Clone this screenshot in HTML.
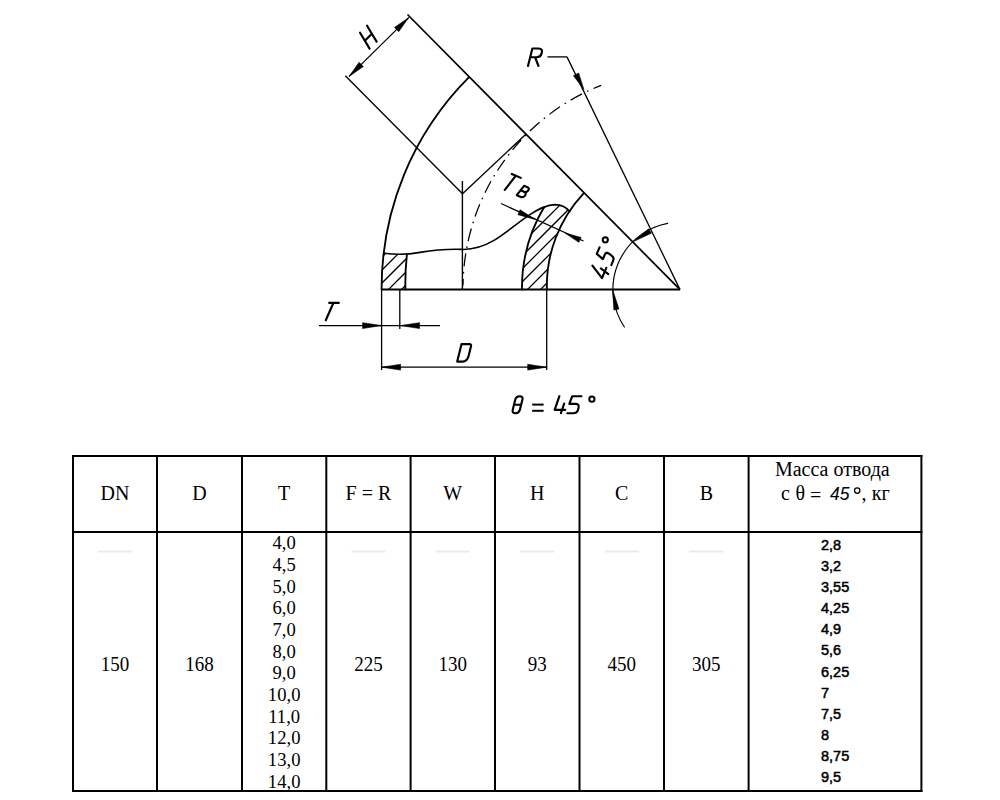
<!DOCTYPE html>
<html><head><meta charset="utf-8"><title>Отвод 45°</title>
<style>
html,body{margin:0;padding:0;background:#fff;}
body{width:1000px;height:800px;overflow:hidden;font-family:"Liberation Serif",serif;}
svg{display:block;}
</style></head>
<body>
<svg width="1000" height="800" viewBox="0 0 1000 800">
<rect x="0" y="0" width="1000" height="800" fill="#fff"/>
<g id="drawing">
<line x1="381.50" y1="289.60" x2="680.00" y2="289.60" stroke="#000" stroke-width="2.0" />
<line x1="407.50" y1="14.50" x2="680.00" y2="289.60" stroke="#000" stroke-width="1.7" />
<line x1="345.30" y1="75.80" x2="462.50" y2="193.70" stroke="#000" stroke-width="1.35" />
<line x1="462.50" y1="193.70" x2="525.80" y2="134.30" stroke="#000" stroke-width="1.35" />
<line x1="462.40" y1="181.00" x2="462.40" y2="289.60" stroke="#000" stroke-width="1.4" />
<path d="M381.6,289.6 A298.5,298.5 0 0 1 468.8,77.4" stroke="#000" stroke-width="1.85" fill="none" stroke-linecap="round" stroke-linejoin="round" />
<path d="M546.9,289.6 A135,135 0 0 1 583.4,193.6" stroke="#000" stroke-width="1.85" fill="none" stroke-linecap="round" stroke-linejoin="round" />
<path d="M522.0,289.6 A158,158 0 0 1 544.0,207.3" stroke="#000" stroke-width="1.85" fill="none" stroke-linecap="round" stroke-linejoin="round" />
<path d="M405.4,289.6 A275,275 0 0 1 406.9,254.3" stroke="#000" stroke-width="1.85" fill="none" stroke-linecap="round" stroke-linejoin="round" />
<path d="M384.2,253.2 C396,254.8 408,254.6 420,252.4 C432,250.4 446,248.8 462,249.4 C474,249.8 484,246.2 494,240.4 C506,233.2 516,224 528,215.8 C538,209 546,204.6 555,204.6 C562,204.8 566.5,207.4 569.8,211.6" stroke="#000" stroke-width="1.6" fill="none" stroke-linecap="round" stroke-linejoin="round" />
<line x1="680.00" y1="289.60" x2="567.00" y2="56.90" stroke="#000" stroke-width="1.3" />
<line x1="567.00" y1="56.90" x2="547.50" y2="56.90" stroke="#000" stroke-width="1.3" />
<path d="M583.90,89.40 L573.48,75.66 L578.63,72.98 Z" fill="#000" stroke="#000" stroke-width="0.6" stroke-linejoin="round"/>
<path d="M601.2,85.3 A218,218 0 0 0 463.0,285.6" stroke="#000" stroke-width="1.25" fill="none" stroke-dasharray="13 5.5 1.6 5.5" stroke-dashoffset="4.6"/>
<line x1="349.10" y1="76.40" x2="408.70" y2="17.60" stroke="#000" stroke-width="1.3" />
<path d="M349.10,76.40 L359.09,62.33 L363.31,66.60 Z" fill="#000" stroke="#000" stroke-width="0.6" stroke-linejoin="round"/>
<path d="M408.70,17.60 L398.71,31.67 L394.49,27.40 Z" fill="#000" stroke="#000" stroke-width="0.6" stroke-linejoin="round"/>
<line x1="381.60" y1="289.60" x2="381.60" y2="370.00" stroke="#000" stroke-width="1.3" />
<line x1="399.80" y1="289.60" x2="399.80" y2="329.00" stroke="#000" stroke-width="1.3" />
<line x1="546.70" y1="289.60" x2="546.70" y2="370.00" stroke="#000" stroke-width="1.3" />
<line x1="319.00" y1="325.60" x2="440.00" y2="325.60" stroke="#000" stroke-width="1.3" />
<path d="M381.60,325.60 L362.60,328.50 L362.60,322.70 Z" fill="#000" stroke="#000" stroke-width="0.6" stroke-linejoin="round"/>
<path d="M400.50,325.60 L419.50,322.70 L419.50,328.50 Z" fill="#000" stroke="#000" stroke-width="0.6" stroke-linejoin="round"/>
<line x1="381.60" y1="367.20" x2="546.70" y2="367.20" stroke="#000" stroke-width="1.3" />
<path d="M381.60,367.20 L400.60,364.30 L400.60,370.10 Z" fill="#000" stroke="#000" stroke-width="0.6" stroke-linejoin="round"/>
<path d="M546.70,367.20 L527.70,370.10 L527.70,364.30 Z" fill="#000" stroke="#000" stroke-width="0.6" stroke-linejoin="round"/>
<line x1="501.00" y1="203.50" x2="583.50" y2="241.00" stroke="#000" stroke-width="1.3" />
<path d="M535.00,219.40 L517.89,214.66 L520.11,209.74 Z" fill="#000" stroke="#000" stroke-width="0.6" stroke-linejoin="round"/>
<path d="M565.00,233.10 L581.11,237.44 L578.89,242.36 Z" fill="#000" stroke="#000" stroke-width="0.6" stroke-linejoin="round"/>
<path d="M624.4,327.0 A67.2,67.2 0 0 1 667.6,223.4" stroke="#000" stroke-width="1.15" fill="none" stroke-linecap="round" stroke-linejoin="round" />
<path d="M612.80,290.10 L618.96,309.03 L613.84,309.97 Z" fill="#000" stroke="#000" stroke-width="0.6" stroke-linejoin="round"/>
<path d="M633.40,241.60 L648.60,228.81 L651.40,233.19 Z" fill="#000" stroke="#000" stroke-width="0.6" stroke-linejoin="round"/>
<defs><clipPath id="hl"><path d="M381.6,289.6 A298.5,298.5 0 0 1 384.2,253.2 C396,254.8 404,254.6 407,254.2 A275,275 0 0 0 405.4,289.6 Z"/></clipPath><clipPath id="hr"><path d="M522.0,289.6 A158,158 0 0 1 544.0,207.3 C548,205.2 551,204.6 555,204.6 C562,204.8 566.5,207.4 569.8,211.6 A135,135 0 0 0 546.9,289.6 Z"/></clipPath></defs>
<path d="M313,300 L413,200 M326,300 L426,200 M339,300 L439,200 M352,300 L452,200 M365,300 L465,200 M378,300 L478,200 M391,300 L491,200 M404,300 L504,200" stroke="#000" stroke-width="1.25" clip-path="url(#hl)"/>
<path d="M439,300 L549,190 M452,300 L562,190 M465,300 L575,190 M478,300 L588,190 M491,300 L601,190 M504,300 L614,190 M517,300 L627,190 M530,300 L640,190 M543,300 L653,190 M556,300 L666,190 M569,300 L679,190 M582,300 L692,190 M595,300 L705,190 M608,300 L718,190" stroke="#000" stroke-width="1.25" clip-path="url(#hr)"/>
<path d="M0,0 V-1 M0.55,0 V-1 M0,-0.5 H0.55" transform="translate(369.60,48.60) rotate(-45) skewX(-14) scale(18.000,18.000)" stroke="#000" stroke-width="2.15" fill="none" stroke-linecap="round" stroke-linejoin="round" vector-effect="non-scaling-stroke"/>
<path d="M0,0 V-1 H0.36 Q0.6,-1 0.6,-0.75 Q0.6,-0.5 0.36,-0.5 H0 M0.28,-0.5 L0.6,0" transform="translate(528.00,66.00) rotate(0) skewX(-14) scale(17.500,17.500)" stroke="#000" stroke-width="2.15" fill="none" stroke-linecap="round" stroke-linejoin="round" vector-effect="non-scaling-stroke"/>
<path d="M0,-1 H0.56 M0.25,-1 V0" transform="translate(321.40,320.20) rotate(0) skewX(-24) scale(17.400,17.400)" stroke="#000" stroke-width="2.15" fill="none" stroke-linecap="round" stroke-linejoin="round" vector-effect="non-scaling-stroke"/>
<path d="M0,0 V-1 H0.45 Q0.57,-1 0.57,-0.88 V-0.3 Q0.57,0 0.3,0 Z" transform="translate(457.20,361.60) rotate(0) skewX(-14) scale(17.500,17.500)" stroke="#000" stroke-width="2.15" fill="none" stroke-linecap="round" stroke-linejoin="round" vector-effect="non-scaling-stroke"/>
<path d="M0.21,-1 Q0,-1 0,-0.8 V-0.2 Q0,0 0.21,0 Q0.42,0 0.42,-0.2 V-0.8 Q0.42,-1 0.21,-1 Z M0,-0.5 H0.42" transform="translate(511.90,413.20) rotate(0) skewX(-14) scale(17.000,17.000)" stroke="#000" stroke-width="2.15" fill="none" stroke-linecap="round" stroke-linejoin="round" vector-effect="non-scaling-stroke"/>
<line x1="532.20" y1="404.60" x2="543.60" y2="404.60" stroke="#000" stroke-width="2.0" />
<line x1="532.20" y1="410.80" x2="543.60" y2="410.80" stroke="#000" stroke-width="2.0" />
<path d="M0.08,-1 L0,-0.2 H0.62 M0.47,-0.57 L0.42,0" transform="translate(553.80,413.20) rotate(0) skewX(-14) scale(17.000,17.000)" stroke="#000" stroke-width="2.15" fill="none" stroke-linecap="round" stroke-linejoin="round" vector-effect="non-scaling-stroke"/>
<path d="M0.6,-1 H0.06 L0,-0.55 H0.36 Q0.6,-0.55 0.6,-0.32 V-0.22 Q0.6,0 0.36,0 H0.02" transform="translate(567.00,413.20) rotate(0) skewX(-14) scale(17.000,17.000)" stroke="#000" stroke-width="2.15" fill="none" stroke-linecap="round" stroke-linejoin="round" vector-effect="non-scaling-stroke"/>
<circle cx="591.9" cy="399.2" r="2.6" stroke="#000" stroke-width="2.0" fill="none"/>
<path d="M0,-1 H0.56 M0.25,-1 V0" transform="translate(500.80,188.20) rotate(23.7) skewX(-14) scale(17.500,17.500)" stroke="#000" stroke-width="2.15" fill="none" stroke-linecap="round" stroke-linejoin="round" vector-effect="non-scaling-stroke"/>
<path d="M0,0 V-1 H0.33 Q0.55,-1 0.55,-0.76 Q0.55,-0.52 0.33,-0.52 H0 M0.33,-0.52 Q0.6,-0.52 0.6,-0.26 Q0.6,0 0.33,0 H0" transform="translate(516.80,195.20) rotate(23.7) skewX(-14) scale(11.500,11.500)" stroke="#000" stroke-width="2.15" fill="none" stroke-linecap="round" stroke-linejoin="round" vector-effect="non-scaling-stroke"/>
<path d="M0.25,-1 L0,-0.24 H0.62 M0.4,-0.51 V0" transform="translate(605.60,280.75) rotate(-67.5) skewX(-14) scale(18.000,18.000)" stroke="#000" stroke-width="2.15" fill="none" stroke-linecap="round" stroke-linejoin="round" vector-effect="non-scaling-stroke"/>
<path d="M0.47,-1 H0.07 L0.04,-0.57 H0.3 Q0.5,-0.57 0.5,-0.37 V-0.17 Q0.5,0 0.32,0 H0.05" transform="translate(611.00,265.90) rotate(-67.5) skewX(-14) scale(17.700,17.700)" stroke="#000" stroke-width="2.15" fill="none" stroke-linecap="round" stroke-linejoin="round" vector-effect="non-scaling-stroke"/>
<circle cx="605.3" cy="239.8" r="2.6" stroke="#000" stroke-width="2.0" fill="none"/>
</g>
<g id="table">
<line x1="73.00" y1="455.00" x2="73.00" y2="792.00" stroke="#000" stroke-width="2.0" />
<line x1="157.00" y1="455.00" x2="157.00" y2="792.00" stroke="#000" stroke-width="2.0" />
<line x1="242.00" y1="455.00" x2="242.00" y2="792.00" stroke="#000" stroke-width="2.0" />
<line x1="326.30" y1="455.00" x2="326.30" y2="792.00" stroke="#000" stroke-width="2.0" />
<line x1="410.60" y1="455.00" x2="410.60" y2="792.00" stroke="#000" stroke-width="2.0" />
<line x1="495.00" y1="455.00" x2="495.00" y2="792.00" stroke="#000" stroke-width="2.0" />
<line x1="579.50" y1="455.00" x2="579.50" y2="792.00" stroke="#000" stroke-width="2.0" />
<line x1="664.00" y1="455.00" x2="664.00" y2="792.00" stroke="#000" stroke-width="2.0" />
<line x1="748.60" y1="455.00" x2="748.60" y2="792.00" stroke="#000" stroke-width="2.0" />
<line x1="921.40" y1="455.00" x2="921.40" y2="792.00" stroke="#000" stroke-width="2.0" />
<line x1="72.00" y1="456.00" x2="922.40" y2="456.00" stroke="#000" stroke-width="2.0" />
<line x1="72.00" y1="532.00" x2="922.40" y2="532.00" stroke="#000" stroke-width="2.0" />
<line x1="72.00" y1="791.00" x2="922.40" y2="791.00" stroke="#000" stroke-width="2.0" />
<line x1="98.0" y1="551.5" x2="132.0" y2="551.5" stroke="#ecebe4" stroke-width="2"/>
<line x1="351.5" y1="551.5" x2="385.5" y2="551.5" stroke="#ecebe4" stroke-width="2"/>
<line x1="435.8" y1="551.5" x2="469.8" y2="551.5" stroke="#ecebe4" stroke-width="2"/>
<line x1="520.2" y1="551.5" x2="554.2" y2="551.5" stroke="#ecebe4" stroke-width="2"/>
<line x1="604.8" y1="551.5" x2="638.8" y2="551.5" stroke="#ecebe4" stroke-width="2"/>
<line x1="689.3" y1="551.5" x2="723.3" y2="551.5" stroke="#ecebe4" stroke-width="2"/>
<text x="0" y="0" transform="translate(115.00,500.00) scale(0.93,1)" font-family="Liberation Serif" font-size="21.5" font-weight="normal" text-anchor="middle" fill="#000" >DN</text>
<text x="0" y="0" transform="translate(199.50,500.00) scale(0.93,1)" font-family="Liberation Serif" font-size="21.5" font-weight="normal" text-anchor="middle" fill="#000" >D</text>
<text x="0" y="0" transform="translate(284.15,500.00) scale(0.93,1)" font-family="Liberation Serif" font-size="21.5" font-weight="normal" text-anchor="middle" fill="#000" >T</text>
<text x="0" y="0" transform="translate(368.45,500.00) scale(0.93,1)" font-family="Liberation Serif" font-size="21.5" font-weight="normal" text-anchor="middle" fill="#000" >F = R</text>
<text x="0" y="0" transform="translate(452.80,500.00) scale(0.93,1)" font-family="Liberation Serif" font-size="21.5" font-weight="normal" text-anchor="middle" fill="#000" >W</text>
<text x="0" y="0" transform="translate(537.25,500.00) scale(0.93,1)" font-family="Liberation Serif" font-size="21.5" font-weight="normal" text-anchor="middle" fill="#000" >H</text>
<text x="0" y="0" transform="translate(621.75,500.00) scale(0.93,1)" font-family="Liberation Serif" font-size="21.5" font-weight="normal" text-anchor="middle" fill="#000" >C</text>
<text x="0" y="0" transform="translate(706.30,500.00) scale(0.93,1)" font-family="Liberation Serif" font-size="21.5" font-weight="normal" text-anchor="middle" fill="#000" >B</text>
<text x="0" y="0" transform="translate(832.30,476.00) scale(1.0,1)" font-family="Liberation Serif" font-size="20" font-weight="normal" text-anchor="middle" fill="#000" >Масса отвода</text>
<text x="781.00" y="500.00" font-family="Liberation Serif" font-size="20" font-style="normal" fill="#000" >с</text>
<text x="795.60" y="500.00" font-family="Liberation Serif" font-size="20" font-style="normal" fill="#000" >θ</text>
<text x="810.00" y="501.60" font-family="Liberation Serif" font-size="20" font-style="normal" fill="#000" >=</text>
<text x="830.00" y="499.70" font-family="Liberation Sans" font-size="17.5" font-style="italic" fill="#000" >45</text>
<circle cx="857.2" cy="490.6" r="2.7" stroke="#000" stroke-width="1.3" fill="none"/>
<text x="861.50" y="500.00" font-family="Liberation Serif" font-size="20" font-style="normal" fill="#000" >,</text>
<text x="871.80" y="500.00" font-family="Liberation Serif" font-size="20" font-style="normal" fill="#000" >кг</text>
<text x="0" y="0" transform="translate(115.00,671.00) scale(0.95,1)" font-family="Liberation Serif" font-size="20" font-weight="normal" text-anchor="middle" fill="#000" >150</text>
<text x="0" y="0" transform="translate(199.50,671.00) scale(0.95,1)" font-family="Liberation Serif" font-size="20" font-weight="normal" text-anchor="middle" fill="#000" >168</text>
<text x="0" y="0" transform="translate(368.45,671.00) scale(0.95,1)" font-family="Liberation Serif" font-size="20" font-weight="normal" text-anchor="middle" fill="#000" >225</text>
<text x="0" y="0" transform="translate(452.80,671.00) scale(0.95,1)" font-family="Liberation Serif" font-size="20" font-weight="normal" text-anchor="middle" fill="#000" >130</text>
<text x="0" y="0" transform="translate(537.25,671.00) scale(0.95,1)" font-family="Liberation Serif" font-size="20" font-weight="normal" text-anchor="middle" fill="#000" >93</text>
<text x="0" y="0" transform="translate(621.75,671.00) scale(0.95,1)" font-family="Liberation Serif" font-size="20" font-weight="normal" text-anchor="middle" fill="#000" >450</text>
<text x="0" y="0" transform="translate(706.30,671.00) scale(0.95,1)" font-family="Liberation Serif" font-size="20" font-weight="normal" text-anchor="middle" fill="#000" >305</text>
<text x="0" y="0" transform="translate(284.15,549.20) scale(0.97,1)" font-family="Liberation Serif" font-size="19.2" font-weight="normal" text-anchor="middle" fill="#000" >4,0</text>
<text x="0" y="0" transform="translate(284.15,570.89) scale(0.97,1)" font-family="Liberation Serif" font-size="19.2" font-weight="normal" text-anchor="middle" fill="#000" >4,5</text>
<text x="0" y="0" transform="translate(284.15,592.58) scale(0.97,1)" font-family="Liberation Serif" font-size="19.2" font-weight="normal" text-anchor="middle" fill="#000" >5,0</text>
<text x="0" y="0" transform="translate(284.15,614.27) scale(0.97,1)" font-family="Liberation Serif" font-size="19.2" font-weight="normal" text-anchor="middle" fill="#000" >6,0</text>
<text x="0" y="0" transform="translate(284.15,635.96) scale(0.97,1)" font-family="Liberation Serif" font-size="19.2" font-weight="normal" text-anchor="middle" fill="#000" >7,0</text>
<text x="0" y="0" transform="translate(284.15,657.65) scale(0.97,1)" font-family="Liberation Serif" font-size="19.2" font-weight="normal" text-anchor="middle" fill="#000" >8,0</text>
<text x="0" y="0" transform="translate(284.15,679.34) scale(0.97,1)" font-family="Liberation Serif" font-size="19.2" font-weight="normal" text-anchor="middle" fill="#000" >9,0</text>
<text x="0" y="0" transform="translate(284.15,701.03) scale(0.97,1)" font-family="Liberation Serif" font-size="19.2" font-weight="normal" text-anchor="middle" fill="#000" >10,0</text>
<text x="0" y="0" transform="translate(284.15,722.72) scale(0.97,1)" font-family="Liberation Serif" font-size="19.2" font-weight="normal" text-anchor="middle" fill="#000" >11,0</text>
<text x="0" y="0" transform="translate(284.15,744.41) scale(0.97,1)" font-family="Liberation Serif" font-size="19.2" font-weight="normal" text-anchor="middle" fill="#000" >12,0</text>
<text x="0" y="0" transform="translate(284.15,766.10) scale(0.97,1)" font-family="Liberation Serif" font-size="19.2" font-weight="normal" text-anchor="middle" fill="#000" >13,0</text>
<text x="0" y="0" transform="translate(284.15,787.79) scale(0.97,1)" font-family="Liberation Serif" font-size="19.2" font-weight="normal" text-anchor="middle" fill="#000" >14,0</text>
<text x="0" y="0" transform="translate(821.00,550.20) scale(1.0,1)" font-family="Liberation Sans" font-size="14.5" font-weight="normal" text-anchor="start" fill="#000" stroke="#000" stroke-width="0.5">2,8</text>
<text x="0" y="0" transform="translate(821.00,571.25) scale(1.0,1)" font-family="Liberation Sans" font-size="14.5" font-weight="normal" text-anchor="start" fill="#000" stroke="#000" stroke-width="0.5">3,2</text>
<text x="0" y="0" transform="translate(821.00,592.30) scale(1.0,1)" font-family="Liberation Sans" font-size="14.5" font-weight="normal" text-anchor="start" fill="#000" stroke="#000" stroke-width="0.5">3,55</text>
<text x="0" y="0" transform="translate(821.00,613.35) scale(1.0,1)" font-family="Liberation Sans" font-size="14.5" font-weight="normal" text-anchor="start" fill="#000" stroke="#000" stroke-width="0.5">4,25</text>
<text x="0" y="0" transform="translate(821.00,634.40) scale(1.0,1)" font-family="Liberation Sans" font-size="14.5" font-weight="normal" text-anchor="start" fill="#000" stroke="#000" stroke-width="0.5">4,9</text>
<text x="0" y="0" transform="translate(821.00,655.45) scale(1.0,1)" font-family="Liberation Sans" font-size="14.5" font-weight="normal" text-anchor="start" fill="#000" stroke="#000" stroke-width="0.5">5,6</text>
<text x="0" y="0" transform="translate(821.00,676.50) scale(1.0,1)" font-family="Liberation Sans" font-size="14.5" font-weight="normal" text-anchor="start" fill="#000" stroke="#000" stroke-width="0.5">6,25</text>
<text x="0" y="0" transform="translate(821.00,697.55) scale(1.0,1)" font-family="Liberation Sans" font-size="14.5" font-weight="normal" text-anchor="start" fill="#000" stroke="#000" stroke-width="0.5">7</text>
<text x="0" y="0" transform="translate(821.00,718.60) scale(1.0,1)" font-family="Liberation Sans" font-size="14.5" font-weight="normal" text-anchor="start" fill="#000" stroke="#000" stroke-width="0.5">7,5</text>
<text x="0" y="0" transform="translate(821.00,739.65) scale(1.0,1)" font-family="Liberation Sans" font-size="14.5" font-weight="normal" text-anchor="start" fill="#000" stroke="#000" stroke-width="0.5">8</text>
<text x="0" y="0" transform="translate(821.00,760.70) scale(1.0,1)" font-family="Liberation Sans" font-size="14.5" font-weight="normal" text-anchor="start" fill="#000" stroke="#000" stroke-width="0.5">8,75</text>
<text x="0" y="0" transform="translate(821.00,781.75) scale(1.0,1)" font-family="Liberation Sans" font-size="14.5" font-weight="normal" text-anchor="start" fill="#000" stroke="#000" stroke-width="0.5">9,5</text>
</g>
</svg>
</body></html>
